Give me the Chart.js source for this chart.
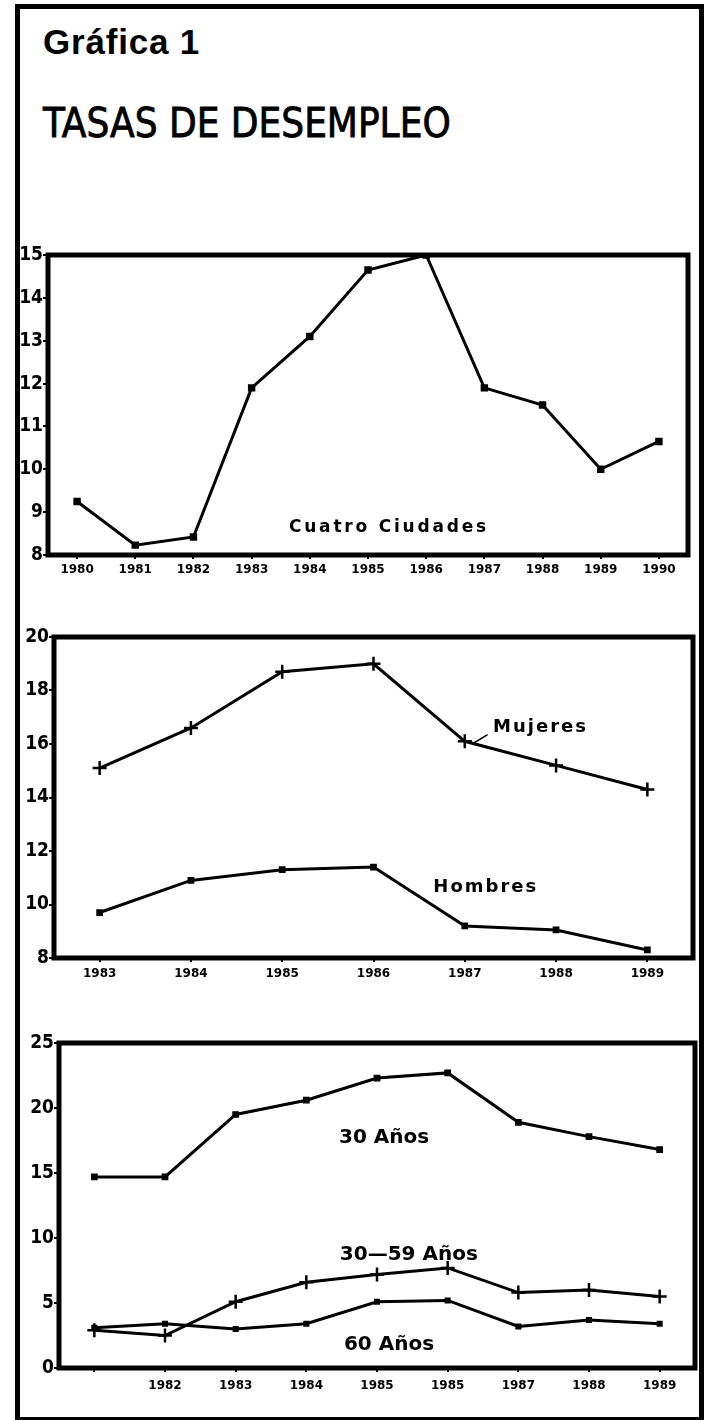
<!DOCTYPE html>
<html>
<head>
<meta charset="utf-8">
<script src="https://cdn.jsdelivr.net/npm/chart.js@4/dist/chart.umd.min.js"></script>
<style>
  html, body { margin: 0; padding: 0; background: #fff; }
  body { width: 709px; height: 1420px; position: relative; overflow: hidden; }
  .page-border { position: absolute; left: 15px; top: 4px; width: 679px; height: 1408px; border: 5px solid #000; }
  .title1 { position: absolute; left: 43px; top: 22px; font: bold 35px "Liberation Sans", Arial, sans-serif; letter-spacing: 0.8px; color: #000; }
  .title2 { position: absolute; left: 43px; top: 100px; font: 40px "Liberation Sans Narrow", "DejaVu Sans Condensed", sans-serif; -webkit-text-stroke: 0.8px #000; color: #000; white-space: nowrap; }
  canvas { position: absolute; left: 0; }
</style>
</head>
<body>
<div class="page-border"></div>
<div class="title1">Gráfica 1</div>
<div class="title2">TASAS DE DESEMPLEO</div>
<canvas id="chart1" style="top:230px" width="709" height="360"></canvas>
<canvas id="chart2" style="top:610px" width="709" height="380"></canvas>
<canvas id="chart3" style="top:1015px" width="709" height="405"></canvas>
<script>
// Data
const years1 = ['1980', '1981', '1982', '1983', '1984', '1985', '1986', '1987', '1988', '1989', '1990'];
const cuatroCiudades = [9.25, 8.23, 8.42, 11.9, 13.1, 14.65, 15.0, 11.9, 11.5, 10.0, 10.65];

const years2 = ['1983', '1984', '1985', '1986', '1987', '1988', '1989'];
const mujeres = [15.1, 16.6, 18.7, 19.0, 16.1, 15.2, 14.3];
const hombres = [9.7, 10.9, 11.3, 11.4, 9.2, 9.05, 8.3];

const years3 = ['', '1982', '1983', '1984', '1985', '1985', '1987', '1988', '1989'];
const edad30 = [14.7, 14.7, 19.5, 20.6, 22.3, 22.7, 18.9, 17.8, 16.8];
const edad30a59 = [2.9, 2.5, 5.1, 6.6, 7.2, 7.7, 5.8, 6.0, 5.5];
const edad60 = [3.1, 3.4, 3.0, 3.4, 5.1, 5.2, 3.2, 3.7, 3.4];

const INK = '#000';

// Thick box round the plot area
const framePlugin = {
  id: 'frame',
  afterDatasetsDraw(chart) {
    const { ctx, chartArea: a } = chart;
    ctx.save();
    ctx.strokeStyle = INK;
    ctx.lineWidth = 5;
    ctx.strokeRect(a.left, a.top, a.right - a.left, a.bottom - a.top);
    ctx.restore();
  }
};

// Text labels placed in data space
const notesPlugin = {
  id: 'notes',
  afterDraw(chart, args, opts) {
    const { ctx, scales } = chart;
    ctx.save();
    ctx.fillStyle = INK;
    ctx.strokeStyle = INK;
    ctx.textAlign = 'center';
    ctx.textBaseline = 'middle';
    (opts.items || []).forEach(n => {
      const x = scales.x.getPixelForValue(n.at);
      const y = scales.y.getPixelForValue(n.value);
      ctx.font = n.font;
      ctx.letterSpacing = (n.spacing || 0) + 'px';
      ctx.fillText(n.text, x, y);
      if (n.leader) {
        ctx.lineWidth = 1.5;
        ctx.beginPath();
        ctx.moveTo(scales.x.getPixelForValue(n.leader[0]), scales.y.getPixelForValue(n.leader[1]));
        ctx.lineTo(scales.x.getPixelForValue(n.leader[2]), scales.y.getPixelForValue(n.leader[3]));
        ctx.stroke();
      }
    });
    ctx.letterSpacing = '0px';
    ctx.restore();
  }
};

function line(data, style, radius) {
  return {
    data,
    borderColor: INK,
    backgroundColor: INK,
    borderWidth: 3,
    pointStyle: style,
    pointRadius: radius,
    pointBorderWidth: 2.5,
    pointBorderColor: INK,
    pointBackgroundColor: INK,
    tension: 0
  };
}

function makeChart(id, labels, datasets, y, box, notes) {
  return new Chart(document.getElementById(id), {
    type: 'line',
    data: { labels, datasets },
    plugins: [framePlugin, notesPlugin],
    options: {
      responsive: false,
      animation: false,
      layout: { padding: { top: box.top, right: box.right, bottom: 0, left: 0 } },
      plugins: {
        legend: { display: false },
        tooltip: { enabled: false },
        notes: { items: notes }
      },
      scales: {
        x: {
          offset: true,
          border: { display: false },
          grid: { drawOnChartArea: false, drawTicks: true, tickLength: 4, color: INK, lineWidth: 2 },
          ticks: {
            color: INK, padding: box.xPad, maxRotation: 0, autoSkip: false,
            font: { family: 'DejaVu Sans', size: 12, weight: 'bold' }
          },
          afterFit: s => { s.height = box.xh; }
        },
        y: {
          min: y.min, max: y.max,
          border: { display: false },
          grid: { drawOnChartArea: false, drawTicks: true, tickLength: 5, color: INK, lineWidth: 2 },
          ticks: {
            stepSize: y.step, color: INK, padding: 0,
            font: { family: '"Liberation Sans Narrow", "DejaVu Sans Condensed", sans-serif', size: 19, weight: 'bold' }
          },
          afterFit: s => { s.width = box.left; }
        }
      }
    }
  });
}

makeChart('chart1', years1,
  [line(cuatroCiudades, 'rect', 3.5)],
  { min: 8, max: 15, step: 1 },
  { top: 25, right: 21, left: 48, xh: 35, xPad: 4 },
  [{ text: 'Cuatro Ciudades', at: 5.36, value: 8.65, font: 'bold 17px "DejaVu Sans"', spacing: 2.8 }]
);

makeChart('chart2', years2,
  [line(mujeres, 'cross', 7), line(hombres, 'rect', 3)],
  { min: 8, max: 20, step: 2 },
  { top: 27, right: 16, left: 54, xh: 32, xPad: 5 },
  [
    { text: 'Mujeres', at: 4.83, value: 16.64, font: 'bold 18px "DejaVu Sans"', spacing: 2, leader: [4.25, 16.35, 4.08, 16.0] },
    { text: 'Hombres', at: 4.23, value: 10.65, font: 'bold 18px "DejaVu Sans"', spacing: 2 }
  ]
);

makeChart('chart3', years3,
  [line(edad30, 'rect', 3), line(edad30a59, 'cross', 7), line(edad60, 'rect', 2.5)],
  { min: 0, max: 25, step: 5 },
  { top: 28, right: 14, left: 59, xh: 52, xPad: 7 },
  [
    { text: '30 Años', at: 4.1, value: 17.7, font: 'bold 20px "DejaVu Sans"' },
    { text: '30—59 Años', at: 4.45, value: 8.7, font: 'bold 20px "DejaVu Sans"' },
    { text: '60 Años', at: 4.17, value: 1.8, font: 'bold 20px "DejaVu Sans"' }
  ]
);
</script>
</body>
</html>
